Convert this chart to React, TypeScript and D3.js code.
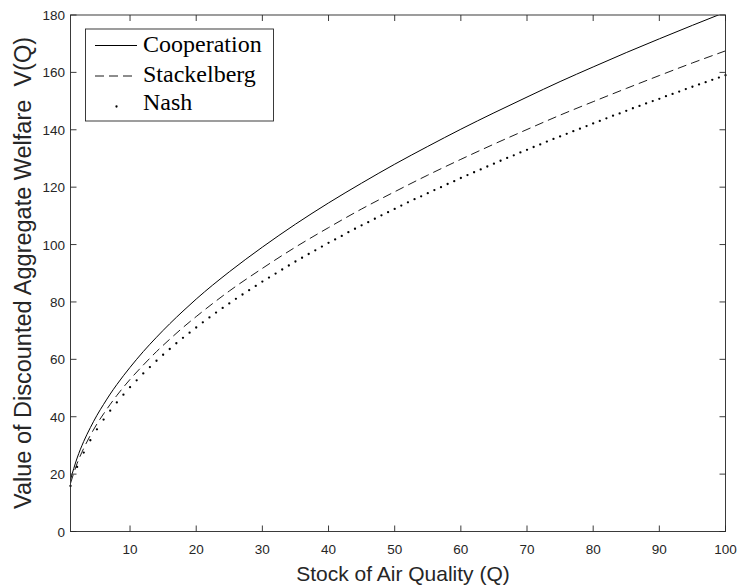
import React from "react";
import * as d3 from "d3";

// values
const lineQ = [1, 2, 3, 4, 5, 6, 7, 8, 10, 12, 14, 16, 18, 20, 25, 30, 35, 40, 45, 50, 55, 60, 65, 70, 75, 80, 85, 90, 95, 100];
const cooperation = [18.1, 25.6, 31.4, 36.2, 40.5, 44.3, 47.9, 51.2, 57.2, 62.7, 67.7, 72.4, 76.8, 81.0, 90.5, 99.1, 107.1, 114.5, 121.4, 128.0, 134.2, 140.2, 145.9, 151.4, 156.8, 161.9, 166.9, 171.7, 176.4, 181.0];
const stackelberg = [16.8, 23.7, 29.0, 33.5, 37.5, 41.0, 44.3, 47.4, 53.0, 58.0, 62.7, 67.0, 71.1, 74.9, 83.8, 91.7, 99.1, 105.9, 112.4, 118.4, 124.2, 129.7, 135.0, 140.1, 145.1, 149.8, 154.4, 158.9, 163.3, 167.5];
// Nash markers, one per integer Q = 1..100
const nash = [
  15.9, 22.5, 27.5, 31.8, 35.6, 39.0, 42.1, 45.0, 47.7, 50.3,
  52.7, 55.1, 57.3, 59.5, 61.6, 63.6, 65.6, 67.5, 69.3, 71.1,
  72.9, 74.6, 76.3, 77.9, 79.5, 81.1, 82.6, 84.1, 85.6, 87.1,
  88.5, 89.9, 91.3, 92.7, 94.1, 95.4, 96.7, 98.0, 99.3, 100.6,
  101.8, 103.0, 104.3, 105.5, 106.7, 107.8, 109.0, 110.2, 111.3, 112.4,
  113.6, 114.7, 115.8, 116.8, 117.9, 119.0, 120.0, 121.1, 122.1, 123.2,
  124.2, 125.2, 126.2, 127.2, 128.2, 129.2, 130.2, 131.1, 132.1, 133.0,
  134.0, 134.9, 135.9, 136.8, 137.7, 138.6, 139.5, 140.4, 141.3, 142.2,
  143.1, 144.0, 144.9, 145.7, 146.6, 147.5, 148.3, 149.2, 150.0, 150.8,
  151.7, 152.5, 153.3, 154.2, 155.0, 155.8, 156.6, 157.4, 158.2, 159.0,
];
const xTicks = [10, 20, 30, 40, 50, 60, 70, 80, 90, 100];
const yTicks = [0, 20, 40, 60, 80, 100, 120, 140, 160, 180];
const legendLabels = ["Cooperation", "Stackelberg", "Nash"];

const W = 737;
const H = 588;
const m = { left: 70.5, right: 725.5, top: 15, bottom: 531.5 };
const axisColor = "#262626";
const sans = '"Liberation Sans", Arial, sans-serif';
const serif = '"Liberation Serif", "Times New Roman", serif';

const App = () => {
  const ref = React.useRef<SVGSVGElement>(null);

  React.useEffect(() => {
    const svg = d3.select(ref.current);
    svg.selectAll("*").remove();

    const x = d3.scaleLinear().domain([1, 100]).range([m.left, m.right]);
    const y = d3.scaleLinear().domain([0, 180]).range([m.bottom, m.top]);

    svg.append("rect").attr("width", W).attr("height", H).attr("fill", "white");

    svg.append("clipPath").attr("id", "plot")
      .append("rect")
      .attr("x", m.left).attr("y", m.top)
      .attr("width", m.right - m.left).attr("height", m.bottom - m.top);

    const line = d3.line<number>()
      .x((_, i) => x(lineQ[i]))
      .y(d => y(d))
      .curve(d3.curveMonotoneX);

    const plot = svg.append("g").attr("clip-path", "url(#plot)");
    plot.append("path")
      .attr("d", line(cooperation))
      .attr("fill", "none").attr("stroke", "black").attr("stroke-width", 1);
    plot.append("path")
      .attr("d", line(stackelberg))
      .attr("fill", "none").attr("stroke", "black").attr("stroke-width", 0.9)
      .attr("stroke-dasharray", "9,5");

    svg.append("g").selectAll("circle")
      .data(nash)
      .join("circle")
      .attr("cx", (_, i) => x(i + 1))
      .attr("cy", d => y(d))
      .attr("r", 1.15)
      .attr("fill", "black");

    // axes box with inward ticks on all sides
    const ax = svg.append("g").attr("stroke", axisColor).attr("stroke-width", 0.9).attr("fill", "none");
    ax.append("rect")
      .attr("x", m.left).attr("y", m.top)
      .attr("width", m.right - m.left).attr("height", m.bottom - m.top);
    xTicks.forEach(t => {
      ax.append("line").attr("x1", x(t)).attr("x2", x(t)).attr("y1", m.bottom).attr("y2", m.bottom - 6);
      ax.append("line").attr("x1", x(t)).attr("x2", x(t)).attr("y1", m.top).attr("y2", m.top + 6);
    });
    yTicks.forEach(t => {
      ax.append("line").attr("x1", m.left).attr("x2", m.left + 6).attr("y1", y(t)).attr("y2", y(t));
      ax.append("line").attr("x1", m.right).attr("x2", m.right - 6).attr("y1", y(t)).attr("y2", y(t));
    });

    svg.append("g").selectAll("text")
      .data(xTicks)
      .join("text")
      .attr("x", d => x(d))
      .attr("y", m.bottom + 22)
      .attr("text-anchor", "middle")
      .attr("font-family", sans).attr("font-size", 13.5).attr("fill", axisColor)
      .text(d => d);

    svg.append("g").selectAll("text")
      .data(yTicks)
      .join("text")
      .attr("x", m.left - 5.5)
      .attr("y", d => y(d) + 5)
      .attr("text-anchor", "end")
      .attr("font-family", sans).attr("font-size", 13.5).attr("fill", axisColor)
      .text(d => d);

    svg.append("text")
      .attr("x", 403).attr("y", 581)
      .attr("text-anchor", "middle")
      .attr("font-family", sans).attr("font-size", 21).attr("fill", axisColor)
      .text("Stock of Air Quality (Q)");

    svg.append("text")
      .attr("transform", "translate(31," + 273 + ") rotate(-90)")
      .attr("text-anchor", "middle")
      .attr("font-family", sans).attr("font-size", 23.5).attr("fill", axisColor)
      .attr("xml:space", "preserve")
      .text("Value of Discounted Aggregate Welfare  V(Q)");

    // legend
    const lg = svg.append("g");
    lg.append("rect")
      .attr("x", 85.5).attr("y", 29).attr("width", 188).attr("height", 92)
      .attr("fill", "white").attr("stroke", axisColor).attr("stroke-width", 0.9);
    const lineY = [45.5, 76, 106.5];
    const textY = [52, 81.5, 109.5];
    lg.append("line").attr("x1", 95).attr("x2", 137).attr("y1", lineY[0]).attr("y2", lineY[0])
      .attr("stroke", "black").attr("stroke-width", 1);
    lg.append("line").attr("x1", 95).attr("x2", 137).attr("y1", lineY[1]).attr("y2", lineY[1])
      .attr("stroke", "black").attr("stroke-width", 0.9).attr("stroke-dasharray", "9,5");
    lg.append("circle").attr("cx", 116.5).attr("cy", lineY[2]).attr("r", 1.15).attr("fill", "black");
    legendLabels.forEach((label, i) => {
      lg.append("text")
        .attr("x", 143).attr("y", textY[i])
        .attr("font-family", serif).attr("font-size", 24).attr("fill", "black")
        .text(label);
    });
  }, []);

  return (
    <svg ref={ref} width={W} height={H} style={{ position: "absolute", left: 0, top: 0 }}></svg>
  );
};

export default App;
